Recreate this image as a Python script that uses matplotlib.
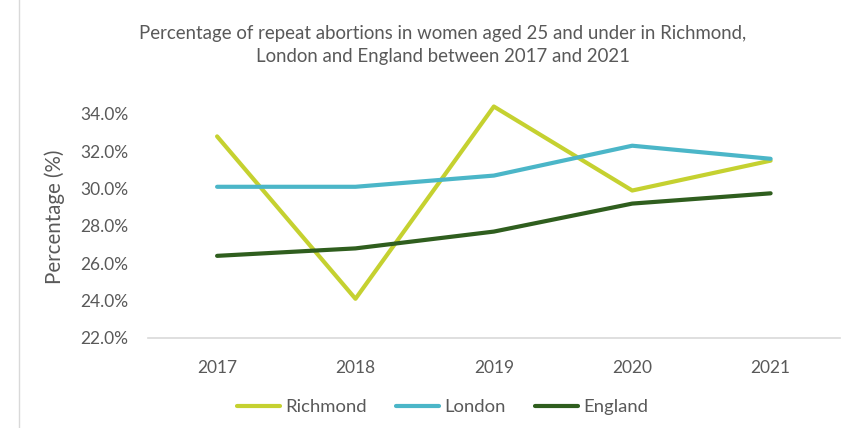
import matplotlib
matplotlib.use("Agg")
import matplotlib.pyplot as plt
from matplotlib.ticker import FuncFormatter
from matplotlib.lines import Line2D

plt.rcParams['font.family'] = ['Lato', 'DejaVu Sans']

years = ["2017", "2018", "2019", "2020", "2021"]
richmond = [32.8, 24.1, 34.4, 29.9, 31.5]
london = [30.1, 30.1, 30.7, 32.3, 31.6]
england = [26.4, 26.8, 27.7, 29.2, 29.75]
yticks = [22, 24, 26, 28, 30, 32, 34]

series = [("Richmond", richmond, "#C5D130"),
          ("London", london, "#4BB6C8"),
          ("England", england, "#2F5E1E")]

fig = plt.figure(figsize=(8.5, 4.28), dpi=100)
ax = fig.add_axes([0.174, 0.2103, 0.814, 0.567])

x = list(range(len(years)))
for name, vals, col in series:
    ax.plot(x, vals, color=col, lw=3.0, solid_capstyle='round',
            solid_joinstyle='round', label=name, clip_on=False)

ax.set_xlim(-0.5, len(years) - 0.5)
ax.set_ylim(22, 35)
ax.set_yticks(yticks)
ax.yaxis.set_major_formatter(FuncFormatter(lambda v, p: f"{v:.1f}%"))
ax.set_xticks(x)
ax.set_xticklabels(years)
for s in ["top", "right", "left"]:
    ax.spines[s].set_visible(False)
ax.spines["bottom"].set_color("#D9D9D9")
ax.spines["bottom"].set_linewidth(1.2)
ax.tick_params(axis="both", length=0, colors="#595959", labelsize=12.5)
ax.tick_params(axis="y", pad=14)
ax.tick_params(axis="x", pad=16)

ax.set_ylabel("Percentage (%)", fontsize=14.8, color="#595959", labelpad=11)

fig.text(0.521, 0.895, "Percentage of repeat abortions in women aged 25 and under in Richmond,\nLondon and England between 2017 and 2021",
         ha="center", va="center", fontsize=13.4, color="#595959", linespacing=1.4)

handles = [Line2D([0], [0], color=c, lw=3.0, solid_capstyle='round') for _, _, c in series]
fig.legend(handles, [n for n, _, _ in series], loc="center", bbox_to_anchor=(0.521, 0.049),
           ncol=3, frameon=False, fontsize=13.3, labelcolor="#595959",
           handlelength=2.3, handletextpad=0.3, columnspacing=1.6)

fig.add_artist(Line2D([19/850, 19/850], [0, 1], color="#D9D9D9", lw=1.0))

fig.savefig("out.png", dpi=100)
